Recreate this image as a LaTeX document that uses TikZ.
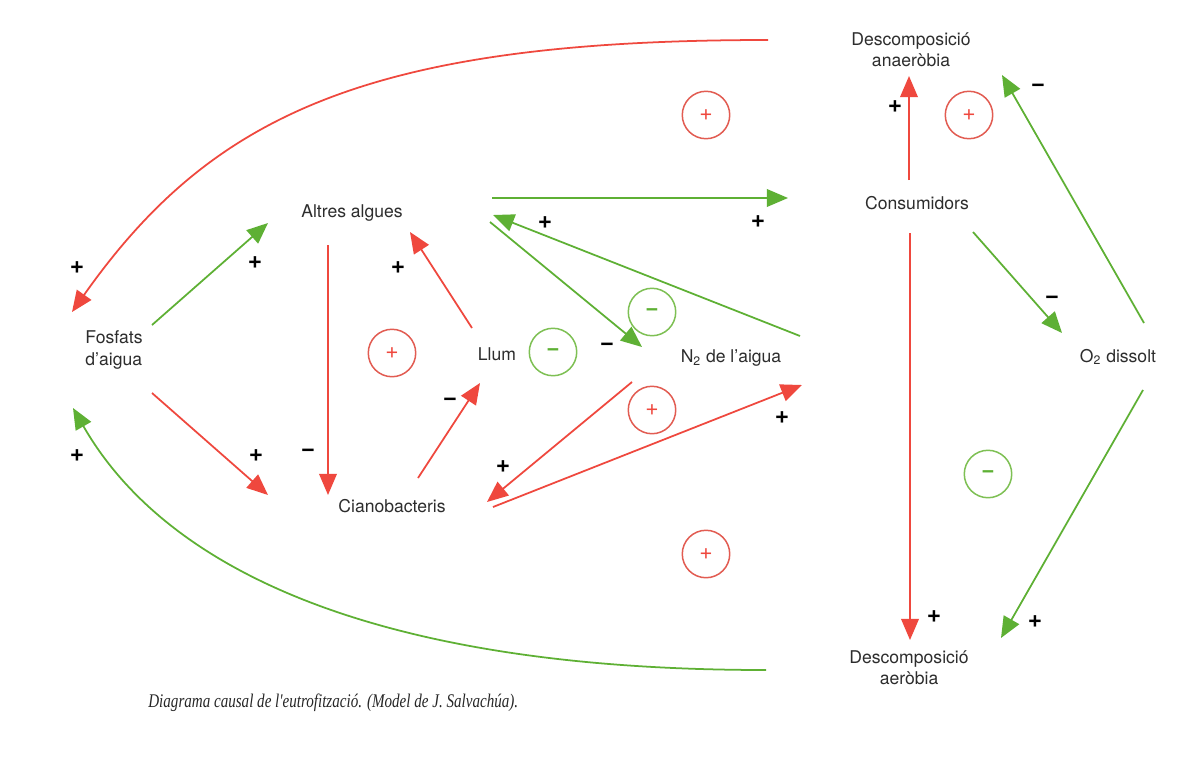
\documentclass[tikz,border=0pt]{standalone}
\usepackage{fontspec}
\setmainfont{TeX Gyre Heros}
\newfontfamily\capfont[FakeStretch=0.78]{Liberation Serif}
\usetikzlibrary{arrows.meta}
\definecolor{vermell}{RGB}{239,72,62}
\definecolor{verd}{RGB}{94,176,52}
\definecolor{cvermell}{RGB}{226,92,82}
\definecolor{cverd}{RGB}{126,192,84}
\definecolor{gristext}{RGB}{45,45,45}
\tikzset{
	>={Triangle[length=12pt,width=10pt]},
	var/.style={font=\fontsize{10}{12}\selectfont, text=gristext, align=center, inner sep=0pt},
	fvermell/.style={->, draw=vermell, line width=1pt},
	fverd/.style={->, draw=verd, line width=1pt},
	signe/.style={font=\fontsize{14}{14}\selectfont\bfseries, inner sep=0pt},
	bucle/.style={circle, line width=0.85pt, minimum size=27pt, inner sep=0pt},
	bucmes/.style={bucle, draw=cvermell, text=vermell, font=\fontsize{13}{13}\selectfont},
	bucmenys/.style={bucle, draw=cverd, text=verd, font=\fontsize{13}{13}\selectfont\bfseries},
}

\begin{document}
\begin{tikzpicture}[x=0.02cm, y=-0.02cm]
	\fill [white] (0,0) rectangle (1199,771);
	\useasboundingbox (0,0) rectangle (1199,771);
	% variables
	\node [var, align=left] (F) at (114,350) {Fosfats\\d'aigua};
	\node [var] (A) at (352,213) {Altres algues};
	\node [var] (C) at (392,506) {Cianobacteris};
	\node [var] (L) at (497,354) {Llum};
	\node [var] (N) at (731,358) {N\textsubscript{2} de l'aigua};
	\node [var] (K) at (917,203) {Consumidors};
	\node [var] (DA) at (911,50) {Descomposició\\anaeròbia};
	\node [var] (DB) at (909,668) {Descomposició\\aeròbia};
	\node [var] (O) at (1118,357) {O\textsubscript{2} dissolt};
	% bucles
	\node [bucmes] (R1) at (706,115) {+};
	\node [bucmes] (R2) at (969,115) {+};
	\node [bucmes] (R3) at (392,353) {+};
	\node [bucmes] (R4) at (652,410) {+};
	\node [bucmes] (R5) at (706,554) {+};
	\node [bucmenys] (B1) at (553,352) {−};
	\node [bucmenys] (B2) at (652,312) {−};
	\node [bucmenys] (B3) at (988,474) {−};
	% corbes exteriors
	\draw [fvermell] ([shift={(-143,-10)}]DA.center) .. controls +(-400,0) and +(139,-197) .. ([shift={(-42,-38)}]F.center);
	\draw [fverd] ([shift={(-143,2)}]DB.center) .. controls +(-400,0) and +(90,157) .. ([shift={(-41,58)}]F.center);
	% fletxes
	\draw [fverd] ([shift={(38,-25)}]F.center) -- ([shift={(-84,10)}]A.center);
	\draw [fvermell] ([shift={(38,43)}]F.center) -- ([shift={(-124,-11)}]C.center);
	\draw [fvermell] ([shift={(-24,32)}]A.center) -- ([shift={(-64,-11)}]C.center);
	\draw [fvermell] ([shift={(26,-28)}]C.center) -- ([shift={(-17,29)}]L.center);
	\draw [fvermell] ([shift={(-25,-26)}]L.center) -- ([shift={(58,19)}]A.center);
	\draw [fverd] ([shift={(140,-15)}]A.center) -- ([shift={(-129,-5)}]K.center);
	\draw [fverd] ([shift={(69,-22)}]N.center) -- ([shift={(141,2)}]A.center);
	\draw [fverd] ([shift={(138,9)}]A.center) -- ([shift={(-89,-11)}]N.center);
	\draw [fvermell] ([shift={(-99,24)}]N.center) -- ([shift={(95,-4)}]C.center);
	\draw [fvermell] ([shift={(101,1)}]C.center) -- ([shift={(71,27)}]N.center);
	\draw [fvermell] ([shift={(-8,-23)}]K.center) -- ([shift={(-2,26)}]DA.center);
	\draw [fvermell] ([shift={(-7,30)}]K.center) -- ([shift={(1,-28)}]DB.center);
	\draw [fverd] ([shift={(56,29)}]K.center) -- ([shift={(-56,-24)}]O.center);
	\draw [fverd] ([shift={(26,-34)}]O.center) -- ([shift={(91,25)}]DA.center);
	\draw [fverd] ([shift={(25,33)}]O.center) -- ([shift={(92,-30)}]DB.center);
	% signes
	\node [signe] (S1) at (77,268) {+};
	\node [signe] (S2) at (77,456) {+};
	\node [signe] (S3) at (255,263) {+};
	\node [signe] (S4) at (256,456) {+};
	\node [signe] (S5) at (308,453) {−};
	\node [signe] (S6) at (450,402) {−};
	\node [signe] (S7) at (398,268) {+};
	\node [signe] (S8) at (545,223) {+};
	\node [signe] (S9) at (758,222) {+};
	\node [signe] (S10) at (607,347) {−};
	\node [signe] (S11) at (503,467) {+};
	\node [signe] (S12) at (782,418) {+};
	\node [signe] (S13) at (895,107) {+};
	\node [signe] (S14) at (934,617) {+};
	\node [signe] (S15) at (1052,300) {−};
	\node [signe] (S16) at (1038,88) {−};
	\node [signe] (S17) at (1035,622) {+};
	% peu
	\node [anchor=west, inner sep=0pt, text=black!85, font=\capfont\itshape\fontsize{11}{13}\selectfont] (peu) at (148,703) {Diagrama causal de l'eutrofització. (Model de J. Salvachúa).};
\end{tikzpicture}
\end{document}
